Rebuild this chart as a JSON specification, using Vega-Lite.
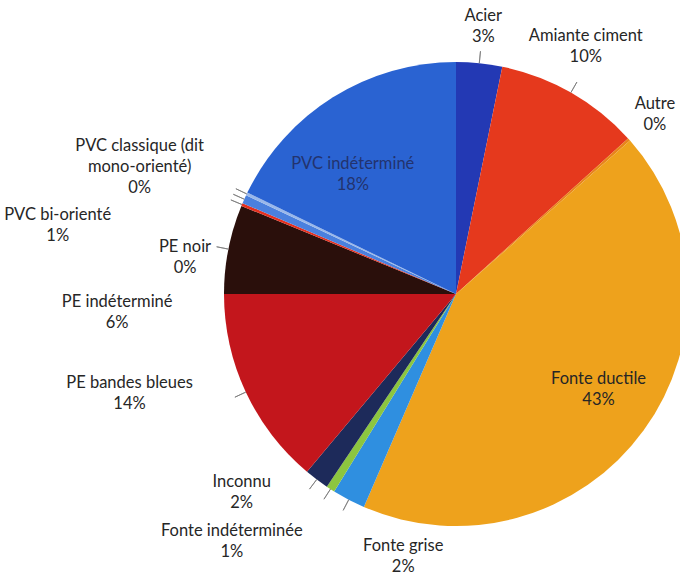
{
  "$schema": "https://vega.github.io/schema/vega-lite/v6.json",
  "width": 680,
  "height": 578,
  "autosize": "none",
  "padding": 0,
  "background": "white",
  "config": {"view": {"stroke": null}},
  "data": {
    "values": [
      {"category": "Acier", "value": 3.2},
      {"category": "Amiante ciment", "value": 10.1},
      {"category": "Autre", "value": 0.2},
      {"category": "Fonte ductile", "value": 43.0},
      {"category": "Fonte grise", "value": 2.3},
      {"category": "Fonte indéterminée", "value": 0.6},
      {"category": "Inconnu", "value": 1.7},
      {"category": "PE bandes bleues", "value": 13.9},
      {"category": "PE indéterminé", "value": 6.2},
      {"category": "PE noir", "value": 0.2},
      {"category": "PVC bi-orienté", "value": 0.6},
      {"category": "PVC classique (dit mono-orienté)", "value": 0.2},
      {"category": "PVC indéterminé", "value": 17.8}
    ]
  },
  "transform": [
    {"stack": "value", "groupby": [], "as": ["v0", "v1"]},
    {"calculate": "(datum.v0 + datum.v1) / 2", "as": "mid"},
    {"calculate": "replace(datum.category, '(dit ', '(dit\\n') + '\\n' + format(round(datum.value), 'd') + '%'", "as": "label"}
  ],
  "layer": [
    {
      "mark": {"type": "arc", "x": 456, "y": 294, "outerRadius": 232},
      "encoding": {
        "theta": {"field": "v0", "type": "quantitative", "scale": {"domain": [0, 100], "nice": false, "zero": true}},
        "theta2": {"field": "v1"},
        "color": {
          "field": "category",
          "type": "nominal",
          "legend": null,
          "scale": {
            "domain": ["Acier", "Amiante ciment", "Autre", "Fonte ductile", "Fonte grise", "Fonte indéterminée", "Inconnu", "PE bandes bleues", "PE indéterminé", "PE noir", "PVC bi-orienté", "PVC classique (dit mono-orienté)", "PVC indéterminé"],
            "range": ["#2339b4", "#e5391d", "#e8851a", "#eea21c", "#2f8fe0", "#8cc63f", "#1d2a5a", "#c3161c", "#2a0f0b", "#e5301f", "#4a80de", "#9ab8ea", "#2a63d2"]
          }
        }
      }
    },
    {
      "transform": [{"filter": "indexof(['Autre', 'Fonte ductile', 'PVC indéterminé'], datum.category) < 0"}],
      "mark": {"type": "arc", "x": 456, "y": 294, "radius": 232, "radius2": 244, "stroke": "#7a7a7a", "strokeWidth": 0.8, "fill": null},
      "encoding": {
        "theta": {"field": "mid", "type": "quantitative", "scale": {"domain": [0, 100], "nice": false, "zero": true}},
        "theta2": {"field": "mid"}
      }
    },
    {
      "mark": {
        "type": "text",
        "x": 456,
        "y": 294,
        "font": "Lato",
        "fontSize": 16.5,
        "lineHeight": 21,
        "align": "center",
        "baseline": "middle",
        "lineBreak": "\n",
        "radius": {"expr": "indexof(['Fonte ductile', 'PVC indéterminé'], datum.category) >= 0 ? 170 : 272"},
        "dx": {"expr": "({'Acier': 0, 'Amiante ciment': -5, 'Autre': -4, 'Fonte ductile': 5, 'Fonte grise': 73, 'Fonte indéterminée': -77, 'Inconnu': -51, 'PE bandes bleues': -80, 'PE indéterminé': -72, 'PE noir': -20, 'PVC bi-orienté': -150, 'PVC classique (dit mono-orienté)': -71, 'PVC indéterminé': -13})[datum.category]"},
        "dy": {"expr": "({'Acier': -7, 'Amiante ciment': -22, 'Autre': -9, 'Fonte ductile': -15, 'Fonte grise': 11, 'Fonte indéterminée': 8, 'Inconnu': -30, 'PE bandes bleues': -26, 'PE indéterminé': 61, 'PE noir': 58, 'PVC bi-orienté': 32, 'PVC classique (dit mono-orienté)': -31, 'PVC indéterminé': 14})[datum.category]"},
        "fill": {"expr": "datum.category == 'PVC indéterminé' ? '#23336e' : '#262626'"}
      },
      "encoding": {
        "theta": {"field": "mid", "type": "quantitative", "scale": {"domain": [0, 100], "nice": false, "zero": true}},
        "text": {"field": "label"}
      }
    }
  ]
}
